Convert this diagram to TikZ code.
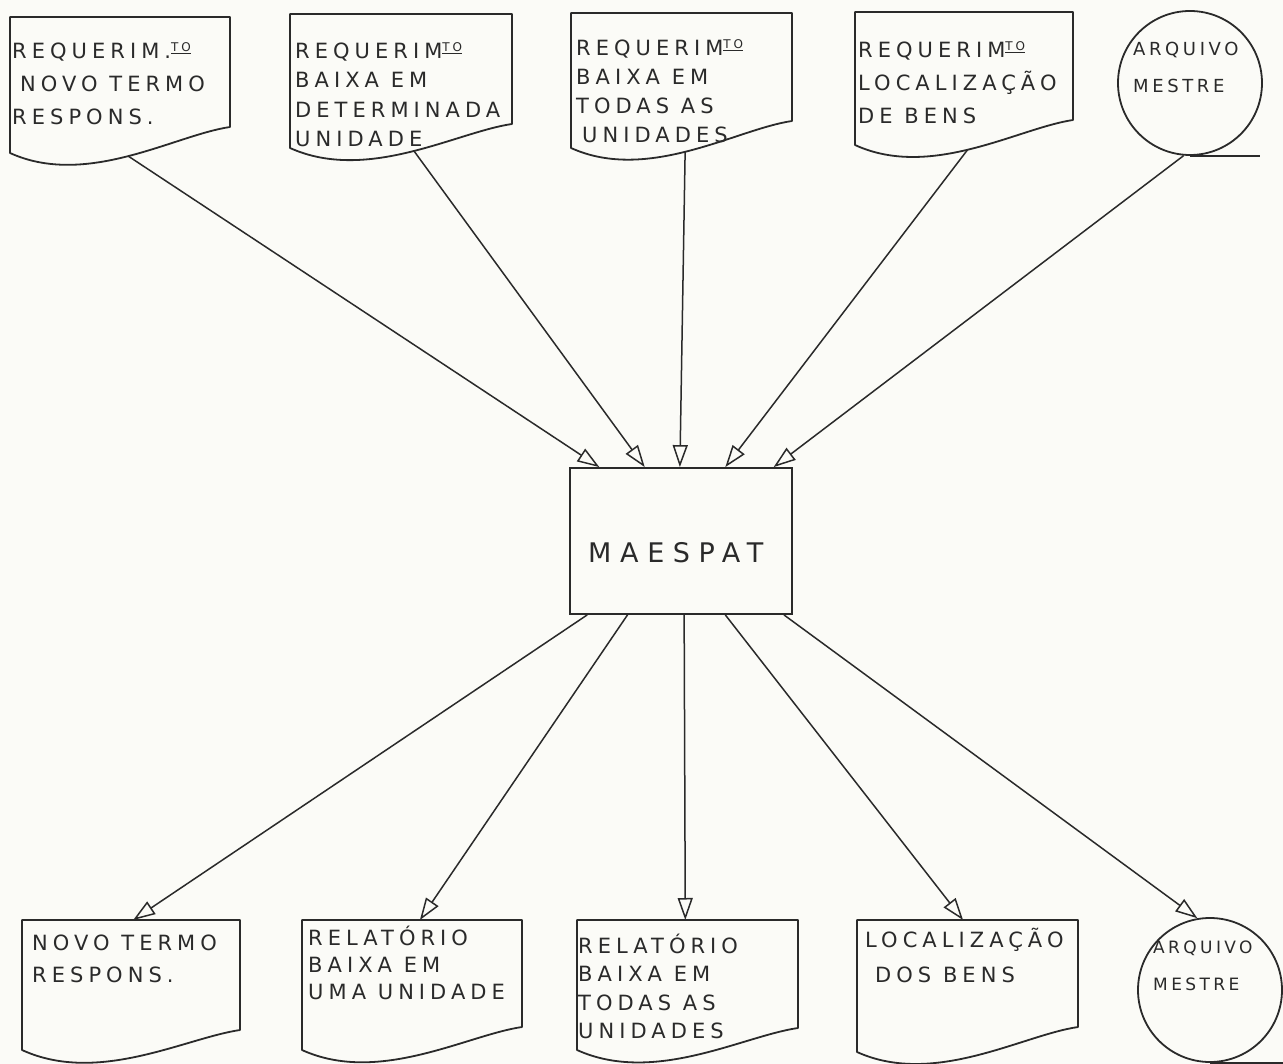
\documentclass[tikz,border=0pt]{standalone}
\usepackage{fontspec}
\usetikzlibrary{arrows.meta}
\newfontfamily\hand[LetterSpace=24]{DejaVu Sans}
\newfontfamily\handsm[LetterSpace=20]{DejaVu Sans}
\newfontfamily\handbig[LetterSpace=32]{DejaVu Sans}
% small underlined superscript, as in REQUERIM.TO
\newcommand\ordsup[1]{\raisebox{0.6ex}{\fontsize{12}{12}\selectfont\underline{#1}}}
% fixed height for the first line of a label
\newcommand\fl{\rule{0pt}{20pt}}
\definecolor{ink}{HTML}{2A2A2A}
\definecolor{paper}{HTML}{FBFBF7}

% document symbol: #1 name, #2 left x, #3 right x, #4 top y,
% #5 right bottom y, #6 left bottom y, #7 position of the exit point on the wave
\newcommand\docshape[7]{%
  \draw[outline] (#2,#4) -- (#3,#4) -- (#3,#5)
    .. controls ({#3-0.25*(#3-#2)},{#5+8}) and ({#2+0.35*(#3-#2)},{#6+35})
    .. coordinate[pos=#7] (#1) (#2,#6) -- cycle;}
% document symbol with an entry point on its top edge
\newcommand\doctop[7]{%
  \draw[outline] (#2,#4) -- coordinate[pos=#7] (#1) (#3,#4) -- (#3,#5)
    .. controls ({#3-0.25*(#3-#2)},{#5+8}) and ({#2+0.35*(#3-#2)},{#6+35})
    .. (#2,#6) -- cycle;}

\tikzset{
  outline/.style={draw=ink, line width=1.8pt, line join=round},
  flow/.style={draw=ink, line width=1.5pt,
    -{Triangle[open, length=22pt, width=15pt, line width=1.5pt]}},
  % the given point is the baseline of the first line
  lab/.style={font=\hand\fontsize{21}{#1}\selectfont, text=ink, align=left,
    inner sep=0pt, anchor=north west, yshift=20pt},
  lab/.default=32,
  circlab/.style={font=\handsm\fontsize{#1}{37}\selectfont, text=ink, align=left,
    inner sep=0pt, anchor=north west, yshift=20pt},
  store/.style={draw=ink, line width=1.8pt, circle, minimum size=144pt, inner sep=0pt},
}

\begin{document}
\begin{tikzpicture}[x=1pt, y=-1pt]
\useasboundingbox[fill=paper] (0,0) rectangle (1283,1064);

% ---- inputs ----
\docshape{d1}{10}{230}{17}{127}{153}{0.5}
\docshape{d2}{290}{512}{14}{124}{148}{0.48}
\docshape{d3}{571}{792}{13}{121}{148}{0.52}
\docshape{d4}{855}{1073}{12}{120}{145}{0.52}
\node[store] (c1) at (1190,83) {};
\draw[outline] (c1.south) -- ++(70,0);

\node[lab=33] (t1) at (12,58) {\fl REQUERIM.\ordsup{TO}\\\hspace*{8pt}NOVO TERMO\\RESPONS.};
\node[lab=29.6] (t2) at (295,58) {\fl REQUERIM\ordsup{TO}\\BAIXA EM\\DETERMINADA\\UNIDADE};
\node[lab=29] (t3) at (576,55) {\fl REQUERIM\ordsup{TO}\\BAIXA EM\\TODAS AS\\\hspace*{6pt}UNIDADES};
\node[lab=33] (t4) at (858,57) {\fl REQUERIM\ordsup{TO}\\LOCALIZAÇÃO\\DE BENS};
\node[circlab=18] (t5) at (1133,55) {\fl ARQUIVO\\MESTRE};

% ---- program ----
\node[draw=ink, line width=1.8pt, minimum width=222pt, minimum height=146pt,
      inner sep=0pt] (box) at (681,541) {};
\node[font=\handbig\fontsize{27}{27}\selectfont, text=ink, inner sep=0pt,
      anchor=base west] (boxlabel) at (588,562) {MAESPAT};

\path (box.north west) -- coordinate[pos=0.135] (in1) coordinate[pos=0.338] (in2)
  coordinate[pos=0.495] (in3) coordinate[pos=0.698] (in4) coordinate[pos=0.914] (in5)
  (box.north east);
\path (box.south west) -- coordinate[pos=0.081] (out1) coordinate[pos=0.261] (out2)
  coordinate[pos=0.514] (out3) coordinate[pos=0.698] (out4) coordinate[pos=0.96] (out5)
  (box.south east);

% ---- outputs ----
\doctop{b1}{22}{240}{920}{1030}{1050}{0.51}
\doctop{b2}{302}{522}{920}{1027}{1050}{0.536}
\doctop{b3}{577}{798}{920}{1028}{1050}{0.49}
\doctop{b4}{857}{1078}{920}{1027}{1052}{0.48}
\node[store] (c2) at (1210,990) {};
\draw[outline] (c2.south) -- ++(80,0);

\node[lab=32] (u1) at (32,950) {\fl NOVO TERMO\\RESPONS.};
\node[lab=27] (u2) at (308,945) {\fl RELATÓRIO\\BAIXA EM\\UMA UNIDADE};
\node[lab=28.5] (u3) at (578,953) {\fl RELATÓRIO\\BAIXA EM\\TODAS AS\\UNIDADES};
\node[lab=35] (u4) at (865,947) {\fl LOCALIZAÇÃO\\\hspace*{10pt}DOS BENS};
\node[circlab=17] (u5) at (1153,953) {\fl ARQUIVO\\MESTRE};

% ---- flows ----
\draw[flow] (d1) -- (in1);
\draw[flow] (d2) -- (in2);
\draw[flow] (d3) -- (in3);
\draw[flow] (d4) -- (in4);
\draw[flow] (c1.-95) -- (in5);

\draw[flow] (out1) -- (b1);
\draw[flow] (out2) -- (b2);
\draw[flow] (out3) -- (b3);
\draw[flow] (out4) -- (b4);
\draw[flow] (out5) -- (c2.100);
\end{tikzpicture}
\end{document}
